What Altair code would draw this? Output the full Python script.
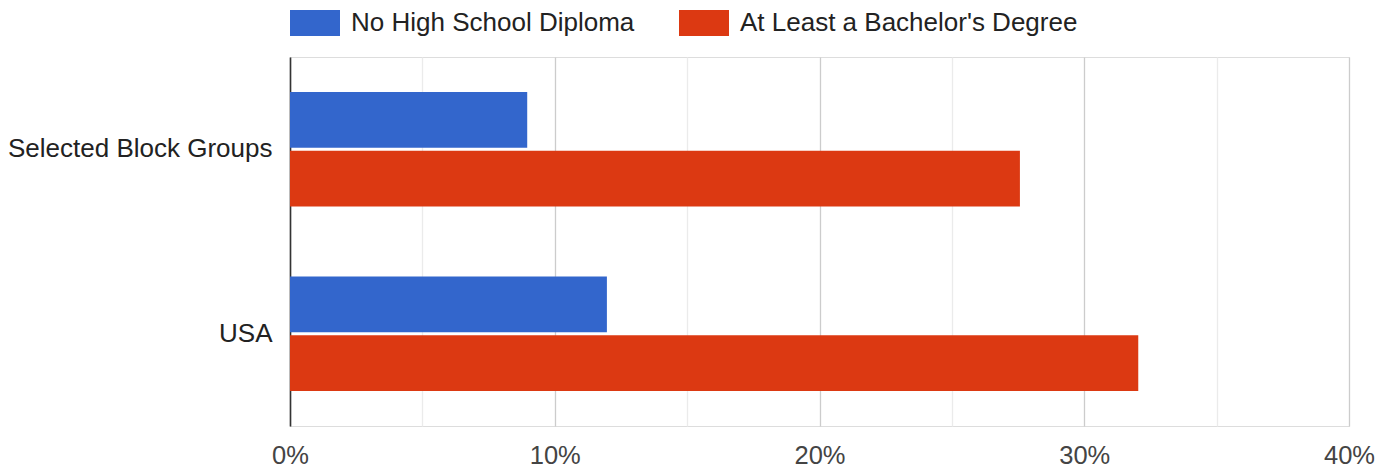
import altair as alt
import pandas as pd

regions = ["Selected Block Groups", "USA"]
series = ["No High School Diploma", "At Least a Bachelor's Degree"]
no_hs_diploma = [8.96, 11.97]
bachelors_or_more = [27.57, 32.04]
x_ticks = [0, 5, 10, 15, 20, 25, 30, 35, 40]
colors = ["#3366CC", "#DC3912"]

rows = []
for i, r in enumerate(regions):
    rows.append({"region": r, "series": series[0], "value": no_hs_diploma[i]})
    rows.append({"region": r, "series": series[1], "value": bachelors_or_more[i]})
df = pd.DataFrame(rows)

FONT = "Liberation Sans"

chart = alt.Chart(df).mark_bar(opacity=1).encode(
    y=alt.Y("region:N", sort=regions, title=None,
            scale=alt.Scale(paddingInner=0.38, paddingOuter=0.19),
            axis=alt.Axis(labelFontSize=26, labelColor="#222222", labelFont=FONT,
                          labelPadding=18, ticks=False, tickSize=0,
                          domain=True, domainColor="#333333", domainWidth=1.6,
                          grid=False, labelLimit=400)),
    yOffset=alt.YOffset("series:N", sort=series,
                        scale=alt.Scale(paddingInner=0.05, paddingOuter=0)),
    x=alt.X("value:Q", title=None,
            scale=alt.Scale(domain=[0, 40], nice=False),
            axis=alt.Axis(values=x_ticks, labelFontSize=25.5, labelColor="#444444",
                          labelFont=FONT, labelPadding=17, ticks=False, tickSize=0,
                          labelFlush=False, labelOverlap=False,
                          domain=False, grid=True,
                          gridColor=alt.condition("datum.value % 10 === 0",
                                                  alt.value("#cccccc"), alt.value("#ebebeb")),
                          gridWidth=1.3,
                          labelExpr="datum.value % 10 === 0 ? datum.value + '%' : ''")),
    color=alt.Color("series:N", sort=series,
                    scale=alt.Scale(domain=series, range=colors),
                    legend=alt.Legend(title=None, orient="none", direction="horizontal",
                                      legendX=0, legendY=-59,
                                      symbolType="M-1,-0.52H1V0.52H-1Z", symbolSize=2500,
                                      symbolStrokeWidth=0, symbolOpacity=1,
                                      labelFontSize=26, labelFont=FONT, labelColor="#222222",
                                      labelOffset=11, columnPadding=44, padding=0,
                                      labelLimit=600)),
).properties(
    width=1059, height=369,
    autosize=alt.AutoSizeParams(type="none"),
    padding={"left": 282, "top": 49, "right": 33, "bottom": 42},
).configure_view(stroke=None).configure(font=FONT)

chart.save("out.html", embed_options={"renderer": "svg", "actions": False})
